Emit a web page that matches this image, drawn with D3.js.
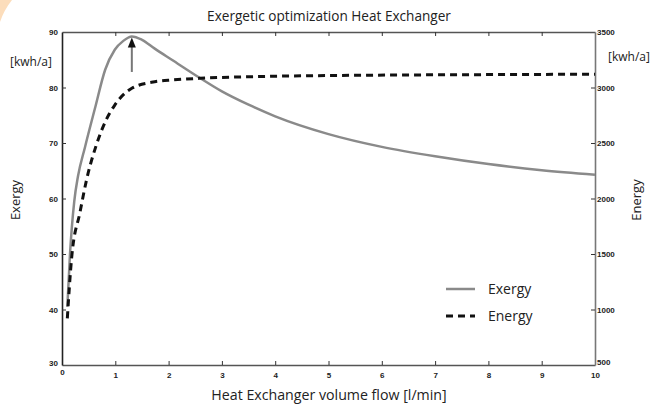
<!DOCTYPE html>
<html><head><meta charset="utf-8">
<script src="https://cdn.jsdelivr.net/npm/d3@7"></script>
<style>body{margin:0;background:#fff}svg{display:block}text{font-family:"Open Sans",Lato,sans-serif;fill:#222}</style>
</head><body><svg id="c" width="651" height="407"></svg>
<script>
const xTicks = [0,1,2,3,4,5,6,7,8,9,10];
const leftTicks = [30,40,50,60,70,80,90];
const rightTicks = [500,1000,1500,2000,2500,3000,3500];
const exergyFlow = [0.1, 0.15, 0.23, 0.3, 0.43, 0.62, 0.81, 0.99, 1.15, 1.31, 1.5, 1.74, 2.06, 2.59, 3, 3.5, 4, 5, 6, 7, 8, 9, 10];
const exergyVals = [40.5, 50, 59.5, 64, 69.2, 76.3, 83.2, 86.8, 88.4, 89.2, 88.6, 87.0, 85.0, 81.7, 79.3, 76.9, 74.8, 71.6, 69.3, 67.6, 66.2, 65.1, 64.3];
const energyFlow = [0.1, 0.18, 0.34, 0.46, 0.65, 0.82, 0.99, 1.31, 1.74, 2.08, 2.59, 3.5, 4.33, 6.5, 8.5, 10];
const energyVals = [921, 1461, 1881, 2167, 2490, 2700, 2842, 2993, 3052, 3068, 3083, 3097, 3104, 3113, 3117, 3120];
const peakFlow = 1.31, arrowFrom = 82.8, arrowTo = 89.2;

const svg = d3.select("#c");
const L = 62, R = 595, T = 32, B = 365;
const x = d3.scaleLinear().domain([0,10]).range([L,R]);
const yL = d3.scaleLinear().domain([30,90]).range([B,T]);
const yR = d3.scaleLinear().domain([500,3500]).range([B,T]);

// decoration
svg.append("path").attr("d","M0,0 L12,0 Q4,10 0,22 Z").attr("fill","#fbd5aa").attr("opacity",0.8);

// axes
const bx = svg.append("g").attr("transform",`translate(0,${B})`).call(d3.axisBottom(x).tickValues(xTicks).tickSizeInner(-4).tickSizeOuter(0).tickPadding(7).tickFormat(d3.format("d")));
const tx = svg.append("g").attr("transform",`translate(0,${T})`).call(d3.axisTop(x).tickValues(xTicks).tickSizeInner(-4).tickSizeOuter(0).tickFormat(""));
const ly = svg.append("g").attr("transform",`translate(${L},0)`).call(d3.axisLeft(yL).tickValues(leftTicks).tickSizeInner(-4).tickSizeOuter(0).tickPadding(4).tickFormat(d3.format("d")));
const ry = svg.append("g").attr("transform",`translate(${R},0)`).call(d3.axisRight(yR).tickValues(rightTicks).tickSizeInner(-4).tickSizeOuter(0).tickPadding(2).tickFormat(d3.format("d")));
[bx,tx,ly,ry].forEach(g=>{
  g.select(".domain").attr("stroke","#222").attr("stroke-width",1.6);
  g.selectAll(".tick line").attr("stroke","#333").attr("stroke-width",1);
  g.selectAll(".tick text").attr("font-size",8).attr("font-weight","bold").attr("fill","#222").style("font-family","Liberation Sans, Arial, sans-serif");
});
ry.select(".domain").attr("stroke","#777");
tx.select(".domain").attr("stroke","#555");
bx.select(".domain").attr("stroke","#555");
ry.selectAll(".tick text").attr("dy","0.32em");
ry.selectAll(".tick").filter(d=>d===500).select("text").attr("dy","-0.1em");
ly.selectAll(".tick").filter(d=>d===30).select("text").attr("dy","0.1em");
bx.selectAll(".tick").filter(d=>d===0).select("text").attr("dy","0.4em");
bx.selectAll(".tick line").filter(d=>d===0||d===10).remove();
tx.selectAll(".tick line").filter(d=>d===0||d===10).remove();
ly.selectAll(".tick line").filter(d=>d===30||d===90).remove();
ry.selectAll(".tick line").filter(d=>d===500||d===3500).remove();

// lines
const exData = exergyFlow.map((f,i)=>[f,exergyVals[i]]);
const enData = energyFlow.map((f,i)=>[f,energyVals[i]]);
svg.append("path").datum(exData).attr("fill","none").attr("stroke","#8a8a8a").attr("stroke-width",2.5)
  .attr("d",d3.line().x(d=>x(d[0])).y(d=>yL(d[1])).curve(d3.curveMonotoneX));
svg.append("path").datum(enData).attr("fill","none").attr("stroke","#111").attr("stroke-width",3).attr("stroke-dasharray","7,5")
  .attr("d",d3.line().x(d=>x(d[0])).y(d=>yR(d[1])).curve(d3.curveMonotoneX));

// arrow
svg.append("line").attr("x1",x(peakFlow)).attr("x2",x(peakFlow)).attr("y1",yL(arrowFrom)).attr("y2",yL(arrowTo)+8)
  .attr("stroke","#777").attr("stroke-width",2);
svg.append("path").attr("d",`M${x(peakFlow)-4},${yL(arrowTo)+11} L${x(peakFlow)},${yL(arrowTo)+1} L${x(peakFlow)+4},${yL(arrowTo)+11} Z`).attr("fill","#111");

// texts
svg.append("text").attr("x",329).attr("y",21).attr("text-anchor","middle").attr("font-size",13.6).text("Exergetic optimization Heat Exchanger");
svg.append("text").attr("x",329).attr("y",400).attr("text-anchor","middle").attr("font-size",14.2).text("Heat Exchanger volume flow [l/min]");
svg.append("text").attr("transform","translate(20,200) rotate(-90)").attr("text-anchor","middle").attr("font-size",13).text("Exergy");
svg.append("text").attr("transform","translate(641,200) rotate(-90)").attr("text-anchor","middle").attr("font-size",13).text("Energy");
svg.append("text").attr("x",10).attr("y",66).attr("font-size",12).text("[kwh/a]");
svg.append("text").attr("x",608).attr("y",61).attr("font-size",12).text("[kwh/a]");

// legend
const leg = [{name:"Exergy",color:"#8a8a8a",dash:null,w:2.5},{name:"Energy",color:"#111",dash:"7,5",w:3}];
leg.forEach((d,i)=>{
  const y = 289 + i*27;
  svg.append("line").attr("x1",446).attr("x2",475).attr("y1",y).attr("y2",y).attr("stroke",d.color).attr("stroke-width",d.w).attr("stroke-dasharray",d.dash);
  svg.append("text").attr("x",488).attr("y",y+5).attr("font-size",14).text(d.name);
});
</script></body></html>
